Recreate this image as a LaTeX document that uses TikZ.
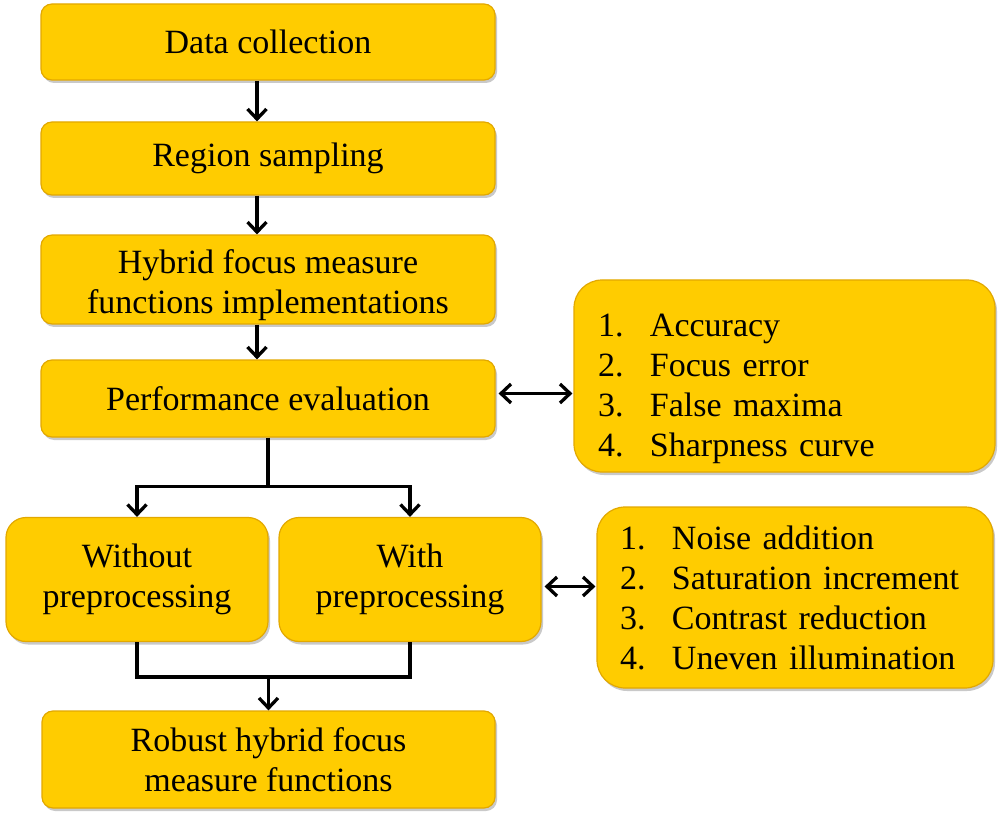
\documentclass[tikz,border=0pt]{standalone}
\usepackage{fontspec}
\setmainfont{Liberation Serif}
\usepackage{tikz}
\usetikzlibrary{arrows.meta, positioning, calc, shadows}
\definecolor{gold}{HTML}{FFCC00}
\definecolor{goldedge}{HTML}{E2A800}
\tikzset{
    block_gold/.style={rectangle, draw=goldedge, line width=1.2pt, fill=gold, rounded corners=11pt, align=center,
        font=\fontsize{34}{40}\selectfont, drop shadow={shadow xshift=2pt, shadow yshift=-3pt, opacity=0.3, fill=black!70}},
    list_gold/.style={block_gold, rounded corners=28pt, align=left},
    arrow/.style={-{Straight Barb[length=10pt,width=19pt]}, line width=3.3pt},
    darrow/.style={{Straight Barb[length=10pt,width=19pt]}-{Straight Barb[length=10pt,width=19pt]}, line width=3.3pt},
    line/.style={line width=3.3pt}
}
\newcommand{\itemno}[1]{\makebox[52pt][l]{#1}}

\begin{document}
\begin{tikzpicture}[x=1pt, y=-1pt]
\useasboundingbox (0,0) rectangle (1002,821);

\node (data) [block_gold, minimum width=454pt, minimum height=76pt] at (268,42)
    {Data collection};

\node (region) [block_gold, minimum width=454pt, minimum height=73pt] at (268,158.5)
    {Region sampling};

\node (hybrid) [block_gold, minimum width=454pt, minimum height=85pt] at (268,279.5)
    {\rule{0pt}{35pt}Hybrid focus measure\\functions implementations};

\node (perf) [block_gold, minimum width=454pt, minimum height=77pt] at (268,398.5)
    {Performance evaluation};

\node (metrics) [list_gold, minimum width=421pt, minimum height=192pt,
    text width=373pt, inner xsep=24pt] at (784.5,376)
    {\rule{0pt}{48pt}\itemno{1.}Accuracy\\\itemno{2.}Focus error\\\itemno{3.}False maxima\\\itemno{4.}Sharpness curve};

\node (without) [block_gold, rounded corners=20pt, minimum width=262pt, minimum height=124pt] at (137,579.5)
    {Without\\preprocessing};

\node (with) [block_gold, rounded corners=20pt, minimum width=262pt, minimum height=124pt] at (410,579.5)
    {With\\preprocessing};

\node (distort) [list_gold, minimum width=396pt, minimum height=181pt,
    text width=350pt, inner xsep=23pt] at (795,597.5)
    {\itemno{1.}Noise addition\\\itemno{2.}Saturation increment\\\itemno{3.}Contrast reduction\\\itemno{4.}Uneven illumination};

\node (robust) [block_gold, minimum width=453pt, minimum height=97pt] at (268.5,759.5)
    {Robust hybrid focus\\measure functions};

% Main flow
\draw[arrow] ([xshift=-11pt]data.south) -- ([xshift=-11pt]region.north);
\draw[arrow] ([xshift=-11pt]region.south) -- ([xshift=-11pt]hybrid.north);
\draw[arrow] ([xshift=-11pt]hybrid.south) -- ([xshift=-11pt]perf.north);

% Side lists
\draw[darrow] ([xshift=3pt,yshift=5pt]perf.east) -- ([xshift=-1pt,yshift=5pt]perf.east -| metrics.west);
\draw[darrow] ([xshift=3pt,yshift=-7pt]with.east) -- ([xshift=-1pt,yshift=-7pt]with.east -| distort.west);

% Split into two branches
\draw[line] (perf.south) -- ++(0,49) coordinate (split);
\draw[arrow] (split) -| (without.north);
\draw[arrow] (split) -| (with.north);

% Merge back
\coordinate (join) at (robust.north |- 0,677);
\draw[line] (without.south) |- (join) -| (with.south);
\draw[arrow] (join) -- (robust.north);

\end{tikzpicture}
\end{document}
